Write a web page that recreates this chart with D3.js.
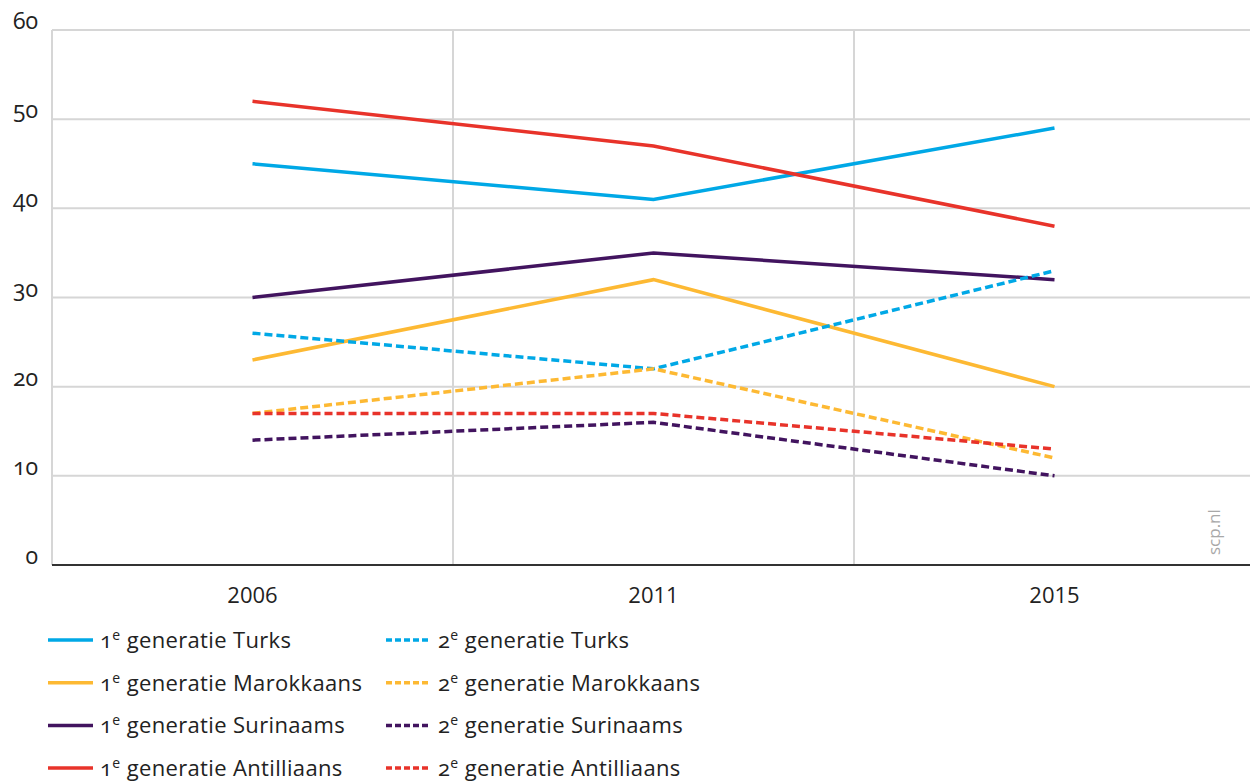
<!DOCTYPE html>
<html><head><meta charset="utf-8">
<script src="https://cdn.jsdelivr.net/npm/d3@7"></script>
<style>
body{margin:0;background:#fff;}
svg text{font-family:"Open Sans",sans-serif;}
.lbl{font-family:"Open Sans",sans-serif;font-variant-numeric:oldstyle-nums;font-feature-settings:"onum" 1;}
</style></head><body>
<svg id="c" width="1250" height="782"></svg>
<script>
const years = ["2006","2011","2015"];
const yTicks = [0,10,20,30,40,50,60];
const seriesNames = ["Turks","Marokkaans","Surinaams","Antilliaans"];
const seriesColors = ["#00a8e6","#fdb933","#42145f","#e8332a"];
const gen1Turks = [45,41,49];
const gen1Marokkaans = [23,32,20];
const gen1Surinaams = [30,35,32];
const gen1Antilliaans = [52,47,38];
const gen2Turks = [26,22,33];
const gen2Marokkaans = [17,22,12];
const gen2Surinaams = [14,16,10];
const gen2Antilliaans = [17,17,13];

const series = [
  {gen:"1",name:"Turks",values:gen1Turks,c:0},
  {gen:"1",name:"Marokkaans",values:gen1Marokkaans,c:1},
  {gen:"1",name:"Surinaams",values:gen1Surinaams,c:2},
  {gen:"1",name:"Antilliaans",values:gen1Antilliaans,c:3},
  {gen:"2",name:"Turks",values:gen2Turks,c:0},
  {gen:"2",name:"Marokkaans",values:gen2Marokkaans,c:1},
  {gen:"2",name:"Surinaams",values:gen2Surinaams,c:2},
  {gen:"2",name:"Antilliaans",values:gen2Antilliaans,c:3}
];

const svg = d3.select("#c");
const pLeft=52, pRight=1255, pTop=30, pBottom=565;
const xb = d3.scaleBand().domain(years).range([pLeft,pRight]);
const x = d => xb(d)+xb.bandwidth()/2;
const y = d3.scaleLinear().domain([0,60]).range([pBottom,pTop]);

// horizontal grid
svg.append("g").selectAll("line").data(yTicks.filter(t=>t>0)).join("line")
  .attr("x1",pLeft).attr("x2",1250).attr("y1",d=>y(d)).attr("y2",d=>y(d))
  .attr("stroke","#d6d6d6").attr("stroke-width",2);
// vertical grid at band boundaries
svg.append("g").selectAll("line").data(years.slice(1)).join("line")
  .attr("x1",d=>xb(d)).attr("x2",d=>xb(d)).attr("y1",pTop).attr("y2",pBottom)
  .attr("stroke","#d6d6d6").attr("stroke-width",2);
// left axis line
svg.append("line").attr("x1",pLeft).attr("x2",pLeft).attr("y1",pTop).attr("y2",pBottom)
  .attr("stroke","#d6d6d6").attr("stroke-width",2);

// y labels
svg.append("g").selectAll("text").data(yTicks).join("text")
  .attr("class","lbl")
  .attr("x",38).attr("y",d=>y(d)-1)
  .attr("text-anchor","end").attr("font-size",23).attr("fill","#222")
  .text(d=>d);

// x labels
svg.append("g").selectAll("text").data(years).join("text")
  .attr("x",d=>x(d)).attr("y",603).attr("text-anchor","middle")
  .attr("font-size",22).attr("fill","#222").text(d=>d);

// lines
const line = d3.line().x((d,i)=>x(years[i])).y(d=>y(d));
svg.append("g").selectAll("path").data(series).join("path")
  .attr("d",d=>line(d.values)).attr("fill","none")
  .attr("stroke",d=>seriesColors[d.c]).attr("stroke-width",3.5)
  .attr("stroke-dasharray",d=>d.gen==="2"?"8,4":null);

// bottom axis
svg.append("line").attr("x1",pLeft).attr("x2",1250).attr("y1",pBottom).attr("y2",pBottom)
  .attr("stroke","#333").attr("stroke-width",2);

// scp.nl
svg.append("text").attr("transform","translate(1220,555) rotate(-90)")
  .attr("font-size",17).attr("fill","#a8a8a8").text("scp.nl");

// legend
const lg = svg.append("g");
series.forEach((s,i)=>{
  const col = s.gen==="1"?0:1;
  const row = s.c;
  const lx = col===0?48:386;
  const ly = 640 + row*42.7;
  lg.append("line").attr("x1",lx).attr("x2",lx+45).attr("y1",ly).attr("y2",ly)
    .attr("stroke",seriesColors[s.c]).attr("stroke-width",3.5)
    .attr("stroke-dasharray",s.gen==="2"?"6,3":null);
  const t = lg.append("text").attr("class","lbl").attr("x",lx+52).attr("y",ly+8)
    .attr("font-size",22).attr("letter-spacing",0.35).attr("fill","#222");
  t.append("tspan").text(s.gen);
  t.append("tspan").attr("font-size",14).attr("dy",-8).text("e");
  t.append("tspan").attr("dy",8).text(" generatie "+s.name);
});
</script>
</body></html>
